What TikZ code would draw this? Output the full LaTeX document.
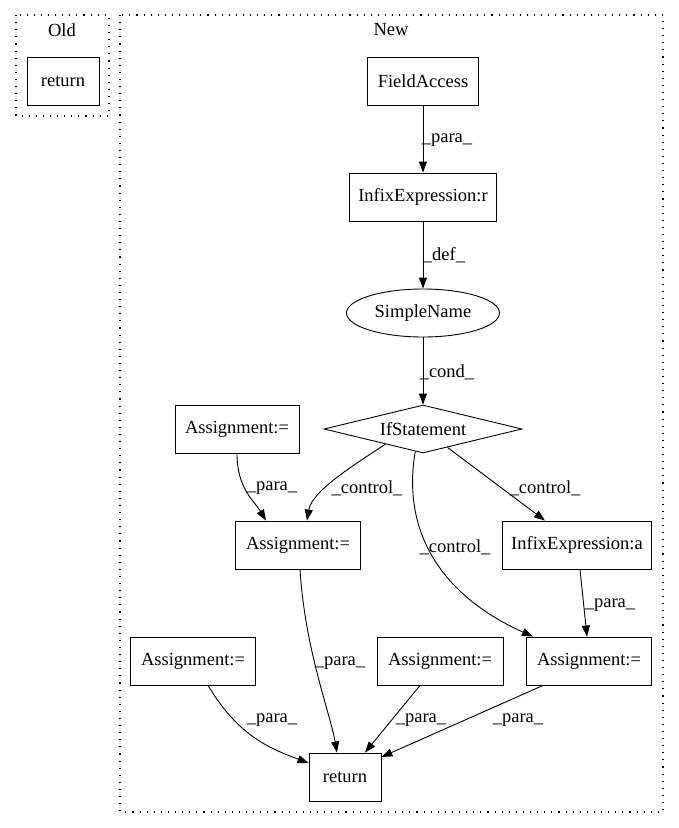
\documentclass[tikz,border=0pt]{standalone}
\usepackage{fontspec}
\setmainfont{Liberation Serif}
\usetikzlibrary{arrows.meta,shapes.geometric}
\begin{document}
\begin{tikzpicture}[x=1pt,y=-1pt,
  every node/.style={font=\fontsize{18.5pt}{20pt}\selectfont},
  box/.style={draw,line width=0.9pt,rectangle,minimum height=48pt,inner sep=0pt},
  elli/.style={draw,line width=0.9pt,ellipse,minimum width=153pt,minimum height=48pt,inner sep=0pt},
  diam/.style={draw,line width=0.9pt,diamond,shape aspect=4,minimum width=198pt,minimum height=48pt,inner sep=0pt},
  lbl/.style={inner sep=0pt},
  edge/.style={draw,line width=0.9pt,-{Triangle[length=11pt,width=8pt]}},
  clus/.style={draw,line width=1.1pt,dash pattern=on 1.1pt off 6pt}]
\useasboundingbox (0,0) rectangle (679,828);
% clusters
\draw[clus] (16,15) rectangle (109,116);
\node[lbl] (oldlbl) at (62,30) {Old};
\draw[clus] (120,15) rectangle (663,812);
\node[lbl] (newlbl) at (391,30) {New};
% nodes
\node[box,minimum width=72pt] (oret) at (63,81) {return};
\node[box,minimum width=111pt] (fa) at (423,81) {FieldAccess};
\node[box,minimum width=147pt] (ir) at (423,197) {InfixExpression:r};
\node[elli] (sn) at (423,313) {SimpleName};
\node[diam] (if) at (423,429) {IfStatement};
\node[box,minimum width=124pt] (ua) at (237,429) {Assignment:=};
\node[box,minimum width=125pt] (ma) at (298,545) {Assignment:=};
\node[box,minimum width=149pt] (ia) at (577,545) {InfixExpression:a};
\node[box,minimum width=125pt] (la) at (193,661) {Assignment:=};
\node[box,minimum width=126pt] (mb) at (440,661) {Assignment:=};
\node[box,minimum width=125pt] (ra) at (589,661) {Assignment:=};
\node[box,minimum width=72pt] (rt) at (345,777) {return};
% edges
\draw[edge] (fa.south) -- (ir.north);
\draw[edge] (ir.south) -- (sn.north);
\draw[edge] (sn.south) -- (if.north);
\draw[edge] (ua.south) .. controls +(0,35) and +(-12,-20) .. ([xshift=-32pt]ma.north);
\draw[edge] (if.-158) .. controls +(-30,20) and +(5,-30) .. ([xshift=9pt]ma.north);
\draw[edge] (if.-37) -- ([xshift=-32pt]ia.north);
\draw[edge] (if.-109) .. controls +(-15,88) and +(-83,-37) .. ([xshift=-56pt]ra.north);
\draw[edge] ([xshift=3pt]ia.south) -- ([xshift=-2pt]ra.north);
\draw[edge] ([xshift=2pt]ma.south) .. controls +(5,80) and +(-7,-40) .. ([xshift=-8pt]rt.north);
\draw[edge] ([xshift=15pt]la.south) .. controls +(30,50) and +(-40,-15) .. ([yshift=14pt]rt.west);
\draw[edge] ([xshift=-20pt]mb.south) -- ([xshift=20pt]rt.north);
\draw[edge] ([xshift=-46pt]ra.south) -- ([yshift=20pt]rt.east);
% edge labels
\node[lbl] (l1) at (447,140) {\_para\_};
\node[lbl] (l2) at (444,255) {\_def\_};
\node[lbl] (l3) at (447,372) {\_cond\_};
\node[lbl] (l4) at (272,488) {\_para\_};
\node[lbl] (l5) at (367,488) {\_control\_};
\node[lbl] (l6) at (545,488) {\_control\_};
\node[lbl] (l7) at (455,547) {\_control\_};
\node[lbl] (l8) at (610,605) {\_para\_};
\node[lbl] (l9) at (340,663) {\_para\_};
\node[lbl] (l10) at (272,720) {\_para\_};
\node[lbl] (l11) at (421,720) {\_para\_};
\node[lbl] (l12) at (518,720) {\_para\_};
\end{tikzpicture}
\end{document}
